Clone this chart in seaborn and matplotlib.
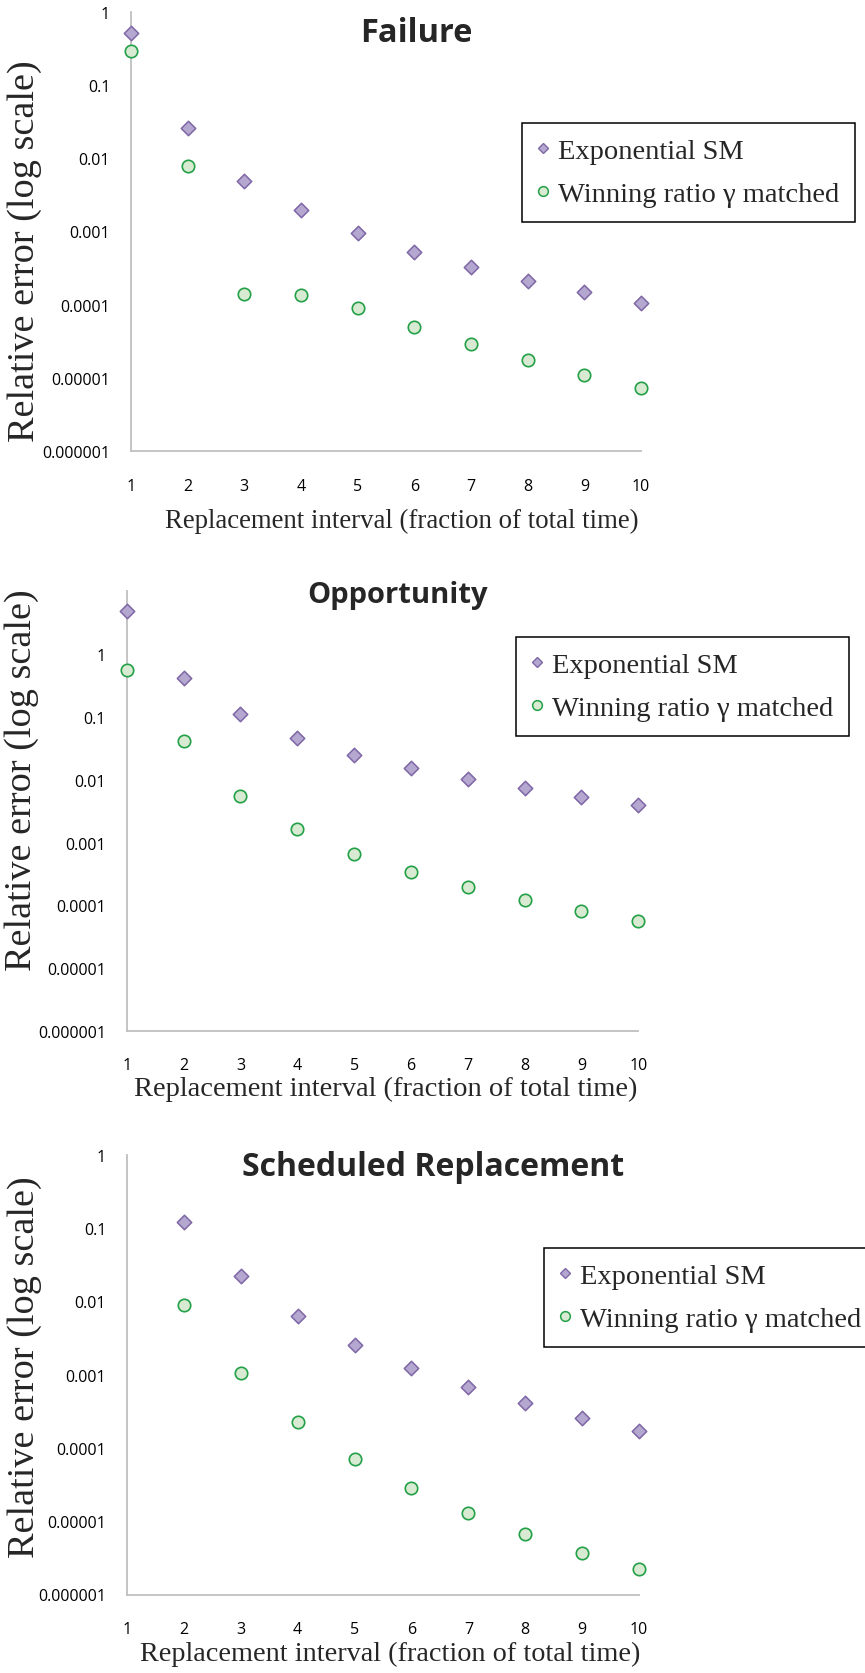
import numpy as np
import pandas as pd
import matplotlib
matplotlib.use("Agg")
import matplotlib.pyplot as plt
import seaborn as sns
from matplotlib.lines import Line2D

# Data
intervals = [1, 2, 3, 4, 5, 6, 7, 8, 9, 10]

failure_exp = [0.51, 0.026, 0.0049, 0.00195, 0.00096, 0.00053, 0.00033, 0.000214, 0.000149, 0.000107]
failure_win = [0.29, 0.0079, 0.000141, 0.000134, 0.000089, 0.0000503, 0.0000294, 0.0000178, 0.000011, 0.0000072]

opportunity_exp = [4.8, 0.415, 0.111, 0.047, 0.025, 0.0154, 0.0103, 0.0073, 0.0053, 0.0040]
opportunity_win = [0.56, 0.041, 0.0056, 0.00163, 0.00066, 0.00034, 0.000195, 0.000123, 0.000081, 0.000056]

sched_intervals = [2, 3, 4, 5, 6, 7, 8, 9, 10]
sched_exp = [0.123, 0.022, 0.0064, 0.00257, 0.00124, 0.00068, 0.00041, 0.00026, 0.000173]
sched_win = [0.0089, 0.00105, 0.000227, 0.0000708, 0.000028, 0.000013, 0.0000066, 0.0000037, 0.0000022]

y_ticks = [1e-6, 1e-5, 1e-4, 1e-3, 1e-2, 1e-1, 1]
y_tick_labels = ["0.000001", "0.00001", "0.0001", "0.001", "0.01", "0.1", "1"]

series_names = ["Exponential SM", "Winning ratio \u03b3 matched"]
titles = ["Failure", "Opportunity", "Scheduled Replacement"]

# Styling
W, H = 865, 1674
AXIS_GREY = "#bfbfbf"
EXP_FACE, EXP_EDGE = "#b4a7d0", "#7f67a6"
WIN_FACE, WIN_EDGE = "#d8ebd2", "#24a048"
SERIF = ["Liberation Serif", "DejaVu Serif"]
SANS = ["Open Sans", "DejaVu Sans"]

sns.set_style("white")
plt.rcParams["font.family"] = SANS

fig = plt.figure(figsize=(W / 100, H / 100), dpi=100)


def fx(x):
    return x / W


def fy(y):
    return 1 - y / H


def add_panel(rect):
    left, top, right, bottom = rect
    return fig.add_axes([fx(left), fy(bottom), (right - left) / W, (bottom - top) / H])


panels = [
    dict(rect=(131, 12.7, 641, 452.3), ymax=1, x=intervals, exp=failure_exp, win=failure_win,
         title=(416.7, 42, 23.5), ylab=(25, 251), xlab=(401.5, 521, 19.3), leg=(522, 124)),
    dict(rect=(126.7, 592.3, 638.3, 1032), ymax=10, x=intervals, exp=opportunity_exp, win=opportunity_win,
         title=(397.5, 603, 21), ylab=(22, 780), xlab=(385.6, 1089, 20.5), leg=(516, 638)),
    dict(rect=(127, 1156, 639, 1595.5), ymax=1, x=sched_intervals, exp=sched_exp, win=sched_win,
         title=(433.5, 1176, 23), ylab=(25, 1367), xlab=(390, 1654, 20.3), leg=(544, 1249)),
]

for i, p in enumerate(panels):
    ax = add_panel(p["rect"])
    df = pd.DataFrame({"interval": p["x"], "exp": p["exp"], "win": p["win"]})

    sns.scatterplot(data=df, x="interval", y="exp", ax=ax, marker="D", s=54,
                    color=EXP_FACE, edgecolor=EXP_EDGE, linewidth=1.1, clip_on=False, zorder=3)
    sns.scatterplot(data=df, x="interval", y="win", ax=ax, marker="o", s=80,
                    color=WIN_FACE, edgecolor=WIN_EDGE, linewidth=1.2, clip_on=False, zorder=3)

    ax.set_yscale("log")
    ax.set_ylim(1e-6, p["ymax"])
    ax.set_xlim(1, 10)
    ax.set_yticks(y_ticks)
    ax.set_yticklabels(y_tick_labels)
    ax.minorticks_off()
    ax.set_xticks(intervals)
    ax.set_xticklabels([str(v) for v in intervals])
    ax.set_xlabel("")
    ax.set_ylabel("")

    sns.despine(ax=ax)
    for side in ["left", "bottom"]:
        ax.spines[side].set_color(AXIS_GREY)
        ax.spines[side].set_linewidth(1.3)
    ax.tick_params(axis="y", direction="out", length=6, width=1.1, color=AXIS_GREY,
                   pad=9, labelsize=11.5, labelcolor="black")
    ax.tick_params(axis="x", direction="out", length=5, width=1.1, color=AXIS_GREY,
                   pad=14, labelsize=11.5, labelcolor="black")

    tx, ty, tsize = p["title"]
    fig.text(fx(tx), fy(ty), titles[i], ha="center", va="baseline",
             fontsize=tsize, fontweight="bold", family=SANS)
    fig.text(fx(p["ylab"][0]), fy(p["ylab"][1]), "Relative error (log scale)",
             rotation=90, ha="center", va="center", fontsize=27.5, family=SERIF)
    lx, ly, lsize = p["xlab"]
    fig.text(fx(lx), fy(ly), "Replacement interval (fraction of total time)",
             ha="center", va="center", fontsize=lsize, family=SERIF)

    handles = [
        Line2D([], [], linestyle="none", marker="D", markersize=4.8,
               markerfacecolor=EXP_FACE, markeredgecolor=EXP_EDGE, markeredgewidth=1),
        Line2D([], [], linestyle="none", marker="o", markersize=7,
               markerfacecolor=WIN_FACE, markeredgecolor=WIN_EDGE, markeredgewidth=1.1),
    ]
    leg = ax.legend(handles, series_names, loc="upper left",
                    bbox_to_anchor=(fx(p["leg"][0]), fy(p["leg"][1])),
                    bbox_transform=fig.transFigure, borderaxespad=0,
                    prop={"family": SERIF, "size": 20.5}, frameon=True, fancybox=False,
                    framealpha=1, edgecolor="black", handlelength=0.45,
                    handletextpad=0.3, labelspacing=0.6, borderpad=0.53)
    leg.get_frame().set_linewidth(1.1)

fig.savefig("out.png", dpi=100)
